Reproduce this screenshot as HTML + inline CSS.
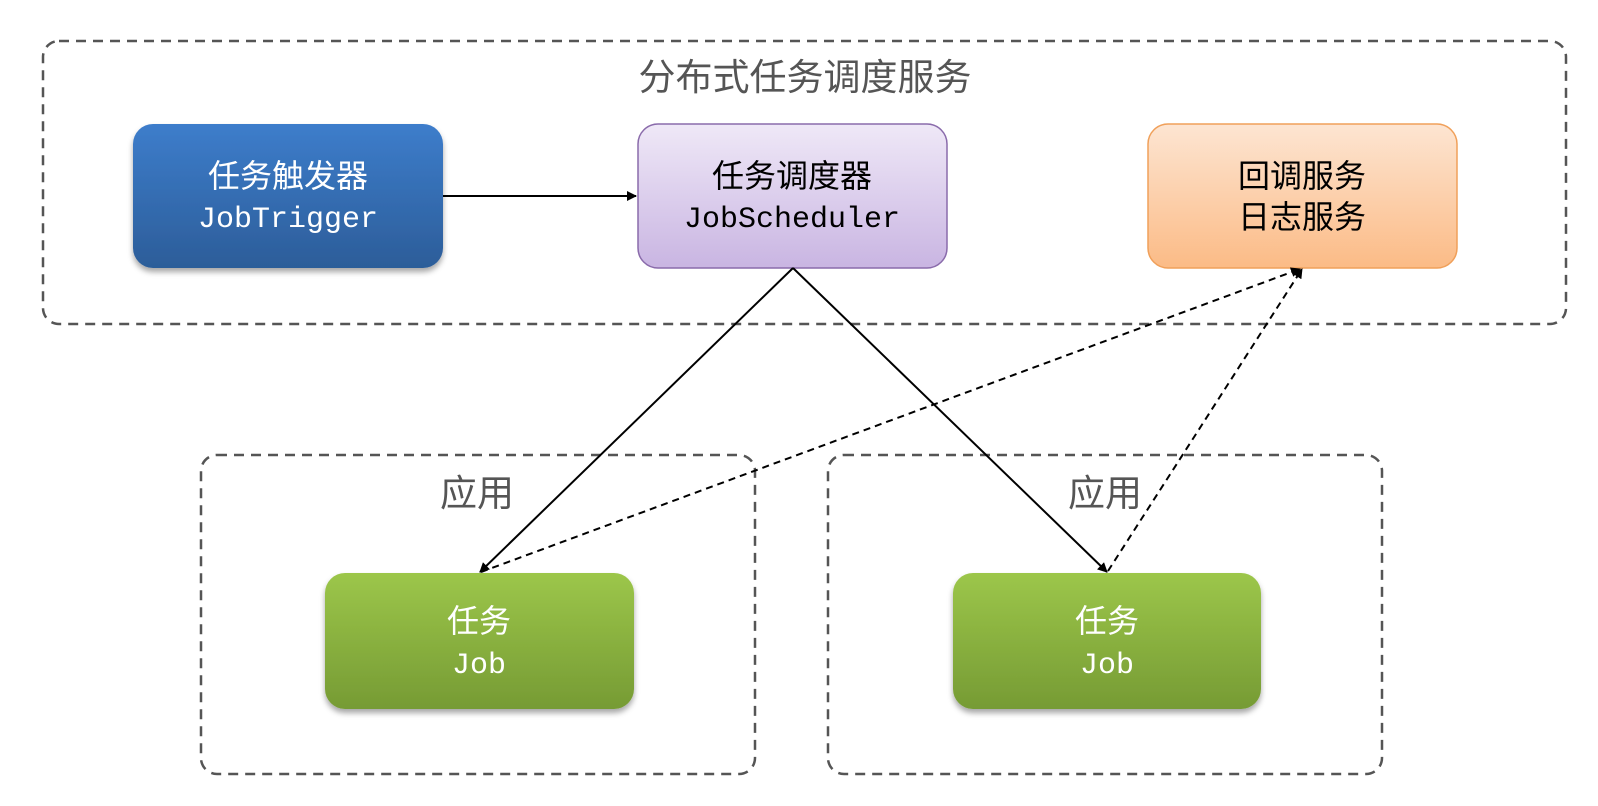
<!DOCTYPE html>
<html><head><meta charset="utf-8"><style>
html,body{margin:0;padding:0;background:#fff;}
svg{display:block}
.cn{font-family:"Liberation Sans","Noto Sans CJK SC",sans-serif;}
.mono{font-family:"Liberation Mono","DejaVu Sans Mono",monospace;}
</style></head><body>
<svg width="1598" height="806" viewBox="0 0 1598 806" xmlns="http://www.w3.org/2000/svg">
<defs>
<linearGradient id="gb" x1="0" y1="0" x2="0" y2="1"><stop offset="0" stop-color="#3d7dcb"/><stop offset="1" stop-color="#2c5d99"/></linearGradient>
<linearGradient id="gp" x1="0" y1="0" x2="0" y2="1"><stop offset="0" stop-color="#efe8f7"/><stop offset="1" stop-color="#c9b5e2"/></linearGradient>
<linearGradient id="go" x1="0" y1="0" x2="0" y2="1"><stop offset="0" stop-color="#fde5d2"/><stop offset="1" stop-color="#fbbb86"/></linearGradient>
<linearGradient id="gg" x1="0" y1="0" x2="0" y2="1"><stop offset="0" stop-color="#9cc64a"/><stop offset="1" stop-color="#769b34"/></linearGradient>
<filter id="sh" x="-10%" y="-10%" width="120%" height="130%"><feDropShadow dx="0" dy="4" stdDeviation="3" flood-color="#000" flood-opacity="0.35"/></filter>
<marker id="ar" markerWidth="10" markerHeight="10" refX="9" refY="5" orient="auto" markerUnits="userSpaceOnUse"><path d="M0,0 L10,5 L0,10 z" fill="#000"/></marker>
</defs>
<rect x="43" y="41" width="1523" height="283" rx="16" fill="none" stroke="#555" stroke-width="2.5" stroke-dasharray="10,7"/>
<text x="805" y="90" text-anchor="middle" font-size="37" fill="#555" class="cn">分布式任务调度服务</text>
<rect x="201" y="455" width="554" height="319" rx="16" fill="none" stroke="#555" stroke-width="2.5" stroke-dasharray="10,7"/>
<rect x="828" y="455" width="554" height="319" rx="16" fill="none" stroke="#555" stroke-width="2.5" stroke-dasharray="10,7"/>
<text x="477" y="506" text-anchor="middle" font-size="37" fill="#555" class="cn">应用</text>
<text x="1105" y="506" text-anchor="middle" font-size="37" fill="#555" class="cn">应用</text>

<rect x="133" y="124" width="310" height="144" rx="20" fill="url(#gb)" filter="url(#sh)"/>
<rect x="638" y="124" width="309" height="144" rx="20" fill="url(#gp)" stroke="#8a6bab" stroke-width="1.5"/>
<rect x="1148" y="124" width="309" height="144" rx="20" fill="url(#go)" stroke="#f0a05a" stroke-width="1.5"/>
<rect x="325" y="573" width="309" height="136" rx="20" fill="url(#gg)" filter="url(#sh)"/>
<rect x="953" y="573" width="308" height="136" rx="20" fill="url(#gg)" filter="url(#sh)"/>

<text x="288" y="187" text-anchor="middle" font-size="32" fill="#fff" class="cn">任务触发器</text>
<text x="288" y="227" text-anchor="middle" font-size="30" fill="#fff" class="mono">JobTrigger</text>
<text x="792" y="187" text-anchor="middle" font-size="32" fill="#000" class="cn">任务调度器</text>
<text x="792" y="227" text-anchor="middle" font-size="30" fill="#000" class="mono">JobScheduler</text>
<text x="1302" y="187" text-anchor="middle" font-size="32" fill="#000" class="cn">回调服务</text>
<text x="1302" y="228" text-anchor="middle" font-size="32" fill="#000" class="cn">日志服务</text>
<text x="479" y="632" text-anchor="middle" font-size="32" fill="#fff" class="cn">任务</text>
<text x="479" y="673" text-anchor="middle" font-size="30" fill="#fff" class="mono">Job</text>
<text x="1107" y="632" text-anchor="middle" font-size="32" fill="#fff" class="cn">任务</text>
<text x="1107" y="673" text-anchor="middle" font-size="30" fill="#fff" class="mono">Job</text>

<line x1="443" y1="196" x2="636" y2="196" stroke="#000" stroke-width="2" marker-end="url(#ar)"/>
<line x1="793" y1="268" x2="480" y2="572" stroke="#000" stroke-width="2" marker-end="url(#ar)"/>
<line x1="793" y1="268" x2="1107" y2="572" stroke="#000" stroke-width="2" marker-end="url(#ar)"/>
<line x1="481" y1="572" x2="1300" y2="269" stroke="#000" stroke-width="2" stroke-dasharray="7,5" marker-end="url(#ar)"/>
<line x1="1108" y1="571" x2="1302" y2="269" stroke="#000" stroke-width="2" stroke-dasharray="7,5" marker-end="url(#ar)"/>
</svg>
</body></html>
